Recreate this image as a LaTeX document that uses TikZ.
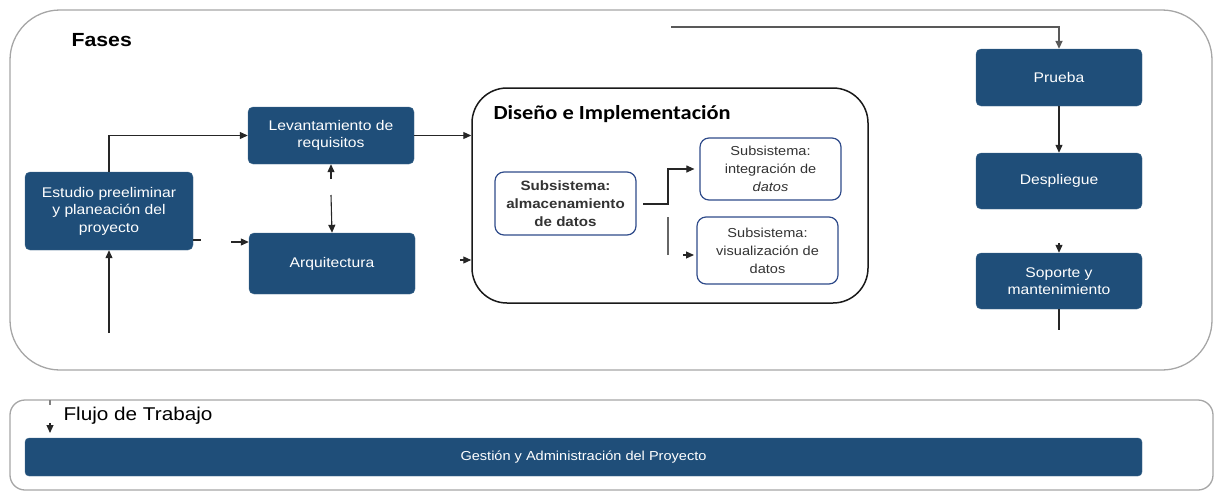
\documentclass[tikz,border=0pt]{standalone}
\usepackage{fontspec}
\setmainfont{Liberation Sans}[FakeStretch=1.12]
\newfontfamily\titlefont{Carlito}[FakeStretch=1.12]
\usetikzlibrary{arrows.meta,positioning}
\definecolor{phaseblue}{HTML}{1F4E79}
\definecolor{subline}{HTML}{2F4B8A}
\definecolor{panelgray}{HTML}{A6A6A6}
\tikzset{
	phase/.style={draw=phaseblue!85!white,fill=phaseblue,rounded corners=5pt,text=white,align=center,inner sep=0pt,font=\fontsize{14}{17.5}\selectfont},
	subbox/.style={draw=subline,line width=1.2pt,fill=white,rounded corners=9pt,align=center,inner sep=0pt,text=black!80,font=\fontsize{13}{18}\selectfont},
	panel/.style={draw=panelgray,line width=1.3pt,inner sep=0pt},
	design/.style={draw=black!90,line width=1.5pt,rounded corners=35pt,inner sep=0pt},
	link/.style={draw=black!85,line width=1.1pt},
	>={Triangle[length=8pt,width=7pt]}
}

\begin{document}
\begin{tikzpicture}[x=1pt,y=-1pt]
	\useasboundingbox (0,0) rectangle (1214,493);
	
	\node[panel,rounded corners=50pt,minimum width=1202,minimum height=360] (fases) at (611,190) {};
	\node[anchor=west,font=\bfseries\fontsize{19}{22}\selectfont] (faseslbl) at (68,40) {Fases};
	
	\node[phase,minimum width=168,minimum height=78] (estudio) at (109,211) {Estudio preeliminar\\y planeación del\\proyecto};
	\node[phase,minimum width=166,minimum height=57] (levant) at (331,135.5) {Levantamiento de\\requisitos};
	\node[phase,minimum width=166,minimum height=61] (arq) at (332,263.5) {Arquitectura};
	
	\node[design,minimum width=396,minimum height=215] (disenio) at (670,195.5) {};
	\node[anchor=west,font=\titlefont\bfseries\fontsize{20}{24}\selectfont] (disenolbl) at (490,114) {Diseño e Implementación};
	\node[subbox,minimum width=141,minimum height=63,font=\bfseries\fontsize{13.5}{18}\selectfont] (alm) at (565.5,203.5) {Subsistema:\\almacenamiento\\de datos};
	\node[subbox,minimum width=141,minimum height=62] (integ) at (770.5,169) {Subsistema:\\integración de\\\textit{datos}};
	\node[subbox,minimum width=141,minimum height=67] (visual) at (767.5,250.5) {Subsistema:\\visualización de\\datos};
	
	\node[phase,minimum width=166,minimum height=57] (prueba) at (1059,77.5) {Prueba};
	\node[phase,minimum width=166,minimum height=56] (despl) at (1059,181) {Despliegue};
	\node[phase,minimum width=166,minimum height=56] (soporte) at (1059,281) {Soporte y\\mantenimiento};
	
	\node[panel,rounded corners=15pt,minimum width=1203,minimum height=90] (flujo) at (611.5,445) {};
	\node[anchor=west,font=\fontsize{18.5}{22}\selectfont] (flujolbl) at (60,416) {Flujo de Trabajo};
	\node[phase,rounded corners=4pt,minimum width=1117,minimum height=38,font=\fontsize{13}{16}\selectfont] (gestion) at (583.5,457) {Gestión y Administración del Proyecto};
	
	% loose ends
	\coordinate (estbot) at (109,333);
	\coordinate (eststub) at (201,240);
	\coordinate (arqin) at (231,242);
	\coordinate (levin) at (331,179);
	\coordinate (arqtop) at (331,195);
	\coordinate (disin) at (460,260);
	\coordinate (almout) at (643,204);
	\coordinate (bend) at (668,204);
	\coordinate (splittop) at (668,217);
	\coordinate (splitbot) at (668,255);
	\coordinate (visin) at (683,255);
	\coordinate (topline) at (671,27);
	\coordinate (soptop) at (1059,243);
	\coordinate (sopbot) at (1059,330);
	\coordinate (flujotop) at (50,400);
	\coordinate (flujotail) at (50,423);
	\coordinate (flujotip) at (50,433);
	
	\draw[link,->] (estudio.north) |- (levant.west);
	\draw[link] ([yshift=-29]estudio.east) -- (eststub);
	\draw[link,->] (arqin) -- (arqin -| arq.west);
	\draw[link,->] (levin) -- (levant.south);
	\draw[link,->] (arqtop) -- (arq.north);
	\draw[link,->] (estbot) -- (estudio.south);
	\draw[link,->] (levant.east) -- (levant.east -| disenio.west);
	\draw[link,->] (disin) -- (disin -| disenio.west);
	\draw[link,->] (almout) -- (bend) |- ([xshift=-5]integ.west);
	\draw[link,draw=black!60] (splittop) -- (splitbot);
	\draw[link,->] (visin) -- ++(11,0);
	\draw[link,draw=black!65,line width=1.6pt,->] (topline) -| (prueba.north);
	\draw[link,->] (prueba.south) -- (despl.north);
	\draw[link,->] (soptop) -- (soporte.north);
	\draw[link] (soporte.south) -- (sopbot);
	\draw[link,draw=black!50] (flujotop) -- ++(0,5);
	\draw[link,->] (flujotail) -- (flujotip);
\end{tikzpicture}
\end{document}
